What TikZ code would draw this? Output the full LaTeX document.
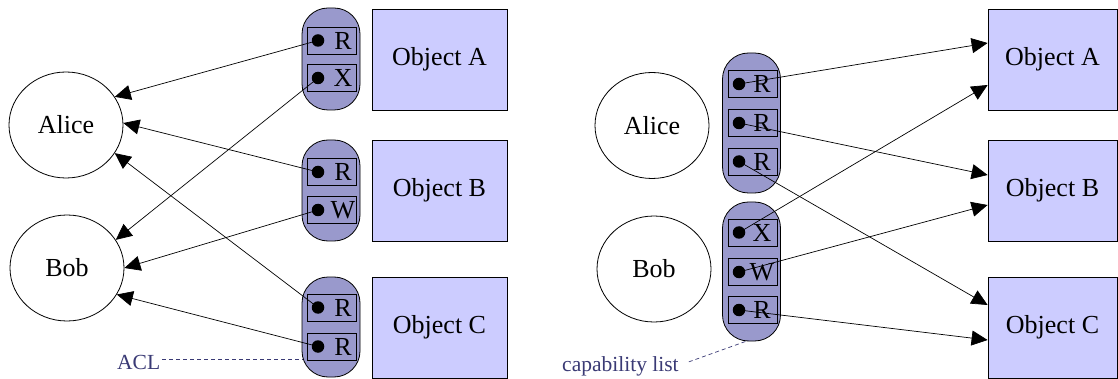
\documentclass[tikz,border=0pt]{standalone}
\usepackage{fontspec}
\setmainfont{Liberation Serif}
\newfontfamily\tms{Liberation Serif}
\usetikzlibrary{arrows.meta,shapes.geometric,calc}
\definecolor{pillc}{HTML}{9999CC}
\definecolor{objc}{HTML}{CCCCFF}
\definecolor{notec}{HTML}{3A3A75}
\newcommand\mkentry[5]{% name, box x, y, letter offset, letter
  \node[entrybox] (#1) at (#2,#3) {};
  \node[dotnode] (#1d) at ($(#1.center)+(-13.5pt,0)$) {};
  \node[lett] (#1l) at ($(#1.center)+(#4pt,0)$) {#5};
}
\begin{document}
\begin{tikzpicture}[x=1pt,y=-1pt,
 person/.style={ellipse,draw,line width=0.8pt,minimum width=114pt,minimum height=106pt,inner sep=0pt,font=\tms\fontsize{26}{30}\selectfont},
 obj/.style={rectangle,draw,fill=objc,line width=0.8pt,minimum height=101pt,inner sep=0pt,font=\tms\fontsize{26}{30}\selectfont},
 pill/.style={rectangle,rounded corners=26pt,draw,fill=pillc,line width=0.8pt,minimum width=58pt,inner sep=0pt},
 entrybox/.style={rectangle,draw,fill=pillc,line width=0.8pt,minimum width=49pt,minimum height=27pt,inner sep=0pt},
 dotnode/.style={circle,fill=black,minimum size=12.5pt,inner sep=0pt},
 lett/.style={inner sep=0pt,font=\tms\fontsize{26}{30}\selectfont},
 arr/.style={-{Triangle[length=16pt,width=15pt]},line width=0.7pt},
 notelabel/.style={text=notec,font=\tms\fontsize{21.5}{25}\selectfont,inner sep=0pt},
 noteline/.style={draw=notec,dash pattern=on 4pt off 3pt,line width=0.7pt}
]
\path[use as bounding box,fill=white] (0,0) rectangle (1118,379);

% ---------- left panel: ACLs ----------
\node[person] (LAlice) at (66,125) {Alice};
\node[person] (LBob) at (67,268) {Bob};

\node[pill,minimum height=102pt] (LPA) at (331,59) {};
\node[pill,minimum height=101pt] (LPB) at (331,190.5) {};
\node[pill,minimum height=100pt] (LPC) at (331,327) {};

\node[obj,minimum width=135pt] (LOA) at (439.5,59.5) {Object A};
\node[obj,minimum width=135pt] (LOB) at (439.5,190.5) {Object B};
\node[obj,minimum width=135pt] (LOC) at (439.5,327.5) {Object C};

\mkentry{aR}{331.5}{40.5}{11.5}{R}
\mkentry{aX}{331.5}{78}{11.5}{X}
\mkentry{bR}{331.5}{172}{11.5}{R}
\mkentry{bW}{331.5}{210}{11.5}{W}
\mkentry{cRa}{331.5}{307.5}{11.5}{R}
\mkentry{cRb}{331.5}{346.5}{11.5}{R}

\draw[arr] (aRd.center) -- (LAlice.30);
\draw[arr] (bRd.center) -- (LAlice.2);
\draw[arr] (cRad.center) -- (LAlice.-30);
\draw[arr] (aXd.center) -- (LBob.30);
\draw[arr] (bWd.center) -- (LBob.0);
\draw[arr] (cRbd.center) -- (LBob.-28);

\node[notelabel,anchor=base west] (acl) at (117,369) {ACL};
\coordinate (aclend) at (303,359);
\draw[noteline] ([xshift=2pt]acl.east |- aclend) -- (aclend);

% ---------- right panel: capability lists ----------
\node[person] (RAlice) at (652,125.5) {Alice};
\node[person] (RBob) at (654,269) {Bob};

\node[pill,minimum height=140pt] (RAP) at (751.5,123) {};
\node[pill,minimum height=139pt] (RBP) at (751.5,271.5) {};

\node[obj,minimum width=129pt] (ROA) at (1052.5,59.5) {Object A};
\node[obj,minimum width=129pt] (ROB) at (1052.5,190.5) {Object B};
\node[obj,minimum width=129pt] (ROC) at (1052.5,327.5) {Object C};

\mkentry{alR1}{752.5}{84}{9.5}{R}
\mkentry{alR2}{752.5}{123}{9.5}{R}
\mkentry{alR3}{752.5}{161.5}{9.5}{R}
\mkentry{boX}{752.5}{232.5}{9.5}{X}
\mkentry{boW}{752.5}{272}{9.5}{W}
\mkentry{boR}{752.5}{310}{9.5}{R}

\draw[arr] (alR1d.center) -- ([yshift=16.5pt]ROA.west);
\draw[arr] (alR2d.center) -- ([yshift=15.5pt]ROB.west);
\draw[arr] (alR3d.center) -- ([yshift=22.5pt]ROC.west);
\draw[arr] (boXd.center) -- ([yshift=-25.5pt]ROA.west);
\draw[arr] (boWd.center) -- ([yshift=-14.5pt]ROB.west);
\draw[arr] (boRd.center) -- ([yshift=-12.5pt]ROC.west);

\node[notelabel,anchor=base west] (cap) at (562,371) {capability list};
\coordinate (capend) at ([xshift=-3pt,yshift=1pt]RBP.south);
\draw[noteline] ([xshift=10pt,yshift=4pt]cap.east) -- (capend);
\end{tikzpicture}
\end{document}
